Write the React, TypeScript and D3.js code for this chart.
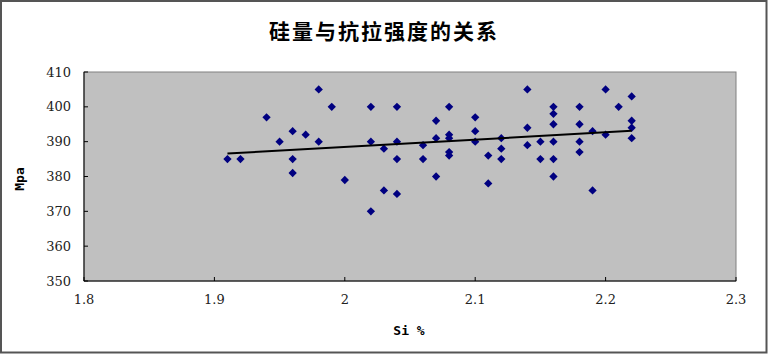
import React from "react";
import * as d3 from "d3";

// Si % vs tensile strength (Mpa)
const siValues = [
  1.91, 1.92, 1.94, 1.95, 1.96, 1.96, 1.96, 1.97, 1.98, 1.98, 1.99, 2.0, 2.02, 2.02, 2.02, 2.03,
  2.03, 2.04, 2.04, 2.04, 2.04, 2.06, 2.06, 2.07, 2.07, 2.07, 2.08, 2.08, 2.08, 2.08, 2.08, 2.1,
  2.1, 2.1, 2.11, 2.11, 2.12, 2.12, 2.12, 2.14, 2.14, 2.14, 2.15, 2.15, 2.16, 2.16, 2.16, 2.16,
  2.16, 2.16, 2.18, 2.18, 2.18, 2.18, 2.19, 2.19, 2.2, 2.2, 2.21, 2.22, 2.22, 2.22, 2.22,
];
const strengthValues = [
  385, 385, 397, 390, 393, 385, 381, 392, 405, 390, 400, 379, 400, 390, 370, 388,
  376, 400, 390, 385, 375, 389, 385, 396, 391, 380, 400, 392, 391, 387, 386, 397,
  393, 390, 386, 378, 391, 388, 385, 405, 394, 389, 390, 385, 400, 398, 395, 390,
  385, 380, 400, 395, 390, 387, 393, 376, 405, 392, 400, 403, 396, 394, 391,
];
const xTicks = [1.8, 1.9, 2.0, 2.1, 2.2, 2.3];
const xTickLabels = ["1.8", "1.9", "2", "2.1", "2.2", "2.3"];
const yTicks = [350, 360, 370, 380, 390, 400, 410];

const title = "硅量与抗拉强度的关系";
const xTitle = "Si %";
const yTitle = "Mpa";

const W = 768;
const H = 354;
const plot = { left: 84, right: 736, top: 72, bottom: 281 };

export default function App() {
  const x = d3.scaleLinear().domain([1.8, 2.3]).range([plot.left, plot.right]);
  const y = d3.scaleLinear().domain([350, 410]).range([plot.bottom, plot.top]);

  const pts = siValues.map((s, i) => ({ s, v: strengthValues[i] }));

  // least squares trendline
  const mx = d3.mean(siValues)!;
  const my = d3.mean(strengthValues)!;
  let num = 0;
  let den = 0;
  pts.forEach((p) => {
    num += (p.s - mx) * (p.v - my);
    den += (p.s - mx) * (p.s - mx);
  });
  const slope = num / den;
  const icpt = my - slope * mx;
  const [x0, x1] = d3.extent(siValues) as [number, number];
  const trend = d3.line<number>()
    .x((d) => x(d))
    .y((d) => y(icpt + slope * d))([x0, x1]);

  const diamond = d3.symbol(d3.symbolDiamond2, 44)();
  const tickFont = "'DejaVu Serif', serif";
  const labelFont = "'DejaVu Sans Mono', monospace";

  return (
    <svg width={W} height={H} style={{ position: "absolute", left: 0, top: 0, background: "#fff" }}>
      <rect x={1} y={1} width={W - 2.5} height={H - 2.5} fill="#fff" stroke="#555" strokeWidth={2} />
      <text x={384} y={39} textAnchor="middle" fontFamily="'Noto Sans CJK SC', sans-serif" fontWeight="bold" fontSize={21} letterSpacing={2} fill="#000">
        {title}
      </text>

      <rect x={plot.left} y={plot.top} width={plot.right - plot.left} height={plot.bottom - plot.top} fill="#c0c0c0" stroke="#808080" />
      <line x1={plot.left} x2={plot.left} y1={plot.top} y2={plot.bottom} stroke="#000" />
      <line x1={plot.left} x2={plot.right} y1={plot.bottom} y2={plot.bottom} stroke="#000" />

      {yTicks.map((t) => (
        <g key={t}>
          <line x1={plot.left} x2={plot.left + 4} y1={y(t)} y2={y(t)} stroke="#000" />
          <text x={plot.left - 13} y={y(t)} dy="0.35em" textAnchor="end" fontFamily={tickFont} fontSize={13} fill="#222">
            {t}
          </text>
        </g>
      ))}
      {xTicks.map((t, i) => (
        <g key={t}>
          <line x1={x(t)} x2={x(t)} y1={plot.bottom} y2={plot.bottom - 4} stroke="#000" />
          <text x={x(t)} y={plot.bottom + 23} textAnchor="middle" fontFamily={tickFont} fontSize={13} fill="#222">
            {xTickLabels[i]}
          </text>
        </g>
      ))}

      <text x={409} y={335} textAnchor="middle" fontFamily={labelFont} fontWeight="bold" fontSize={13} fill="#000">
        {xTitle}
      </text>
      <text transform={`translate(24,179) rotate(-90)`} textAnchor="middle" fontFamily={labelFont} fontWeight="bold" fontSize={13} fill="#000">
        {yTitle}
      </text>

      {pts.map((p, i) => (
        <path key={i} d={diamond ?? ""} transform={`translate(${x(p.s)},${y(p.v)})`} fill="#000080" />
      ))}
      <path d={trend ?? ""} fill="none" stroke="#000" strokeWidth={2} />
    </svg>
  );
}
